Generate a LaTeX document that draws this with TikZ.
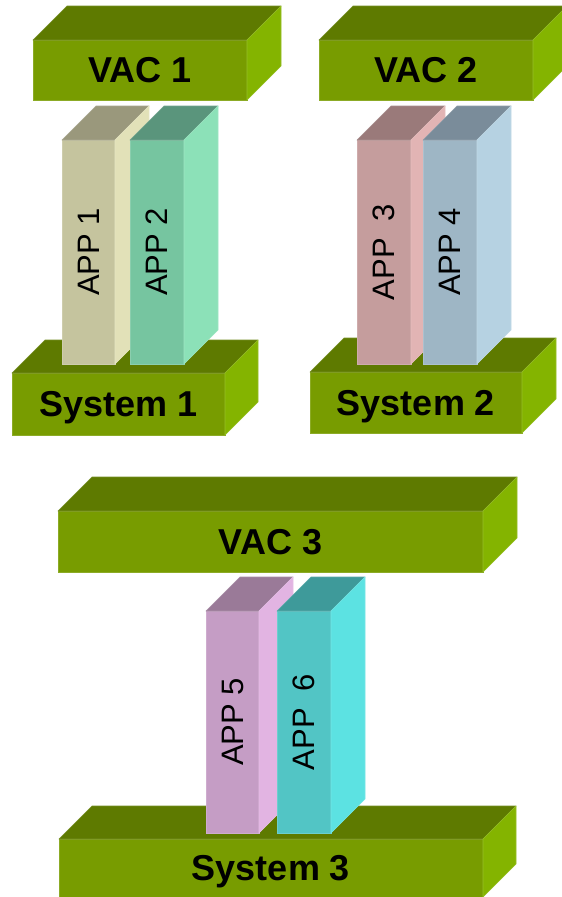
\documentclass[tikz,border=0pt]{standalone}
\usepackage{fontspec}
\setmainfont{Liberation Sans}
\definecolor{gfront}{HTML}{789C00}
\definecolor{gtop}{HTML}{5E7A00}
\definecolor{gside}{HTML}{84B400}
\definecolor{aFront}{HTML}{C5C49E}\definecolor{aTop}{HTML}{9A987C}\definecolor{aSide}{HTML}{E2E1B8}
\definecolor{bFront}{HTML}{76C5A0}\definecolor{bTop}{HTML}{5A957C}\definecolor{bSide}{HTML}{8CE1B8}
\definecolor{cFront}{HTML}{C59D9D}\definecolor{cTop}{HTML}{9A7A7A}\definecolor{cSide}{HTML}{E2B4B4}
\definecolor{dFront}{HTML}{9EB6C5}\definecolor{dTop}{HTML}{7A8C9A}\definecolor{dSide}{HTML}{B6D2E2}
\definecolor{eFront}{HTML}{C59DC5}\definecolor{eTop}{HTML}{9A7A98}\definecolor{eSide}{HTML}{E2B4E2}
\definecolor{fFront}{HTML}{52C5C5}\definecolor{fTop}{HTML}{3E9A9A}\definecolor{fSide}{HTML}{5CE2E2}
\tikzset{
  face/.style={rectangle, inner sep=0pt, outer sep=0pt, line width=0.6pt},
  biglabel/.style={font=\fontsize{36}{40}\selectfont\bfseries, inner sep=0pt, text depth=0pt},
  applabel/.style={font=\fontsize{31}{36}\selectfont, inner sep=0pt, rotate=90},
}
% #1 name, #2 x1, #3 y1, #4 x2, #5 y2, #6 depth, #7 front, #8 top, #9 side
\newcommand\cuboid[9]{%
  \node[face, fill=#7, draw=#7!85!white, minimum width=#4pt-#2pt, minimum height=#5pt-#3pt]
     (#1) at ({(#2+#4)/2},{(#3+#5)/2}) {};
  \filldraw[fill=#8, draw=#8!85!white, line width=0.6pt, line join=round]
     (#1.north west) -- ++(#6,-#6) -- ([shift={(#6,-#6)}]#1.north east) -- (#1.north east) -- cycle;
  \filldraw[fill=#9, draw=#9!85!white, line width=0.6pt, line join=round]
     (#1.north east) -- ++(#6,-#6) -- ([shift={(#6,-#6)}]#1.south east) -- (#1.south east) -- cycle;
}
\begin{document}
\begin{tikzpicture}[x=1pt,y=-1pt]
\useasboundingbox[fill=white] (0,0) rectangle (562,897);
% VAC blocks
\cuboid{vac1}{33}{40}{247}{100}{34}{gfront}{gtop}{gside}
\node[biglabel] (vac1t) at (vac1.center) {VAC 1};
\cuboid{vac2}{319}{40}{533}{100}{34}{gfront}{gtop}{gside}
\node[biglabel] (vac2t) at (vac2.center) {VAC 2};
\cuboid{vac3}{58}{511}{483}{572}{34}{gfront}{gtop}{gside}
\node[biglabel] (vac3t) at (vac3.center) {VAC 3};
% System blocks
\cuboid{sys1}{12}{373}{225}{435}{33}{gfront}{gtop}{gside}
\node[biglabel] (sys1t) at (sys1.center) {System 1};
\cuboid{sys2}{310}{372}{522}{433}{34}{gfront}{gtop}{gside}
\node[biglabel] (sys2t) at (sys2.center) {System 2};
\cuboid{sys3}{59}{839}{483}{897}{33}{gfront}{gtop}{gside}
\node[biglabel] (sys3t) at (sys3.center) {System 3};
% Apps
\cuboid{app1}{62}{140}{115}{364}{34}{aFront}{aTop}{aSide}
\node[applabel] (app1t) at (app1.center) {APP 1};
\cuboid{app2}{130}{140}{184}{364}{34}{bFront}{bTop}{bSide}
\node[applabel] (app2t) at (app2.center) {APP 2};
\cuboid{app3}{357}{140}{411}{364}{34}{cFront}{cTop}{cSide}
\node[applabel] (app3t) at (app3.center) {APP\ \ 3};
\cuboid{app4}{423}{140}{477}{364}{34}{dFront}{dTop}{dSide}
\node[applabel] (app4t) at (app4.center) {APP 4};
\cuboid{app5}{206}{611}{259}{833}{34}{eFront}{eTop}{eSide}
\node[applabel] (app5t) at (app5.center) {APP 5};
\cuboid{app6}{277}{611}{331}{833}{34}{fFront}{fTop}{fSide}
\node[applabel] (app6t) at (app6.center) {APP\ \ 6};
\end{tikzpicture}
\end{document}
